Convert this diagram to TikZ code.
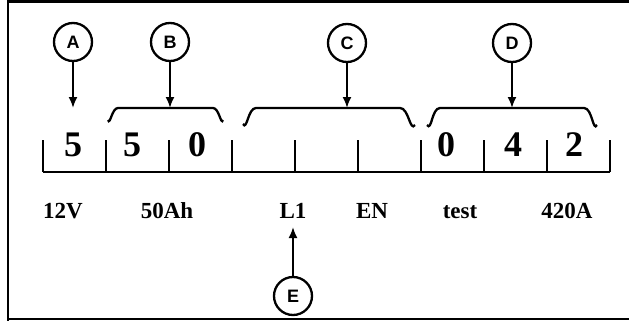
\documentclass[tikz,border=0pt]{standalone}
\usepackage{fontspec}
\setmainfont{Liberation Serif}
\newfontfamily\lettersans{Liberation Sans}
\usetikzlibrary{arrows.meta}
\tikzset{
  frameline/.style={line width=2.6pt},
  scaleline/.style={line width=2.3pt},
  bracket/.style={line width=2.3pt},
  callout/.style={circle, draw, line width=2.3pt, minimum size=38pt, inner sep=0pt,
    font=\lettersans\bfseries\fontsize{18}{18}\selectfont},
  pointer/.style={line width=1.9pt, -{Latex[length=11pt,width=9pt]}},
  digit/.style={anchor=base, inner sep=0pt, font=\bfseries\fontsize{36}{36}\selectfont},
  rating/.style={anchor=base, inner sep=0pt, font=\bfseries\fontsize{23}{23}\selectfont}
}
\begin{document}
\begin{tikzpicture}[x=1pt,y=-1pt]
\useasboundingbox (0,0) rectangle (629,321);
\fill[white] (0,0) rectangle (629,321);

% frame
\draw[frameline] (8,321) -- (8,1.3) -- (629,1.3);
\draw[frameline] (8,319) -- (629,319);

% scale with ten ticks
\draw[scaleline] (43,172) -- (610,172);
\foreach \i in {0,...,9}
  \draw[scaleline] ({43+63*\i},140) -- ({43+63*\i},172);

% digits in the cells
\node[digit] (d1) at (73,156) {5};
\node[digit] (d2) at (132,156) {5};
\node[digit] (d3) at (197,156) {0};
\node[digit] (d7) at (446,156) {0};
\node[digit] (d8) at (513,156) {4};
\node[digit] (d9) at (574,156) {2};

% ratings under the scale
\node[rating] (v12) at (63,218) {12V};
\node[rating] (ah) at (167,218) {50Ah};
\node[rating] (l1) at (293,218) {L1};
\node[rating] (en) at (372,218) {EN};
\node[rating] (tst) at (460,218) {test};
\node[rating] (amp) at (567,218) {420A};

% brackets over the digit groups
\draw[bracket] (108,120) to[out=-70,in=180] (118,108) -- (213,108) to[out=0,in=-110] (223,120);
\draw[bracket] (243,124) to[out=-60,in=180] (256,108) -- (400,108) to[out=0,in=-125] (415,125);
\draw[bracket] (427,125) to[out=-55,in=180] (440,108) -- (584,108) to[out=0,in=-120] (597,125);

% brace tops and arrow ends
\coordinate (tA) at (73,108);
\coordinate (tB) at (170,108);
\coordinate (tC) at (347,108);
\coordinate (tD) at (512,108);
\coordinate (tE) at (293,227);

% callout circles
\node[callout] (A) at (73,42) {A};
\node[callout] (B) at (170,42) {B};
\node[callout] (C) at (347,43) {C};
\node[callout] (D) at (512,43) {D};
\node[callout] (E) at (293,296) {E};

\draw[pointer] (A) -- (tA);
\draw[pointer] (B) -- (tB);
\draw[pointer] (C) -- (tC);
\draw[pointer] (D) -- (tD);
\draw[pointer] (E) -- (tE);
\end{tikzpicture}
\end{document}
